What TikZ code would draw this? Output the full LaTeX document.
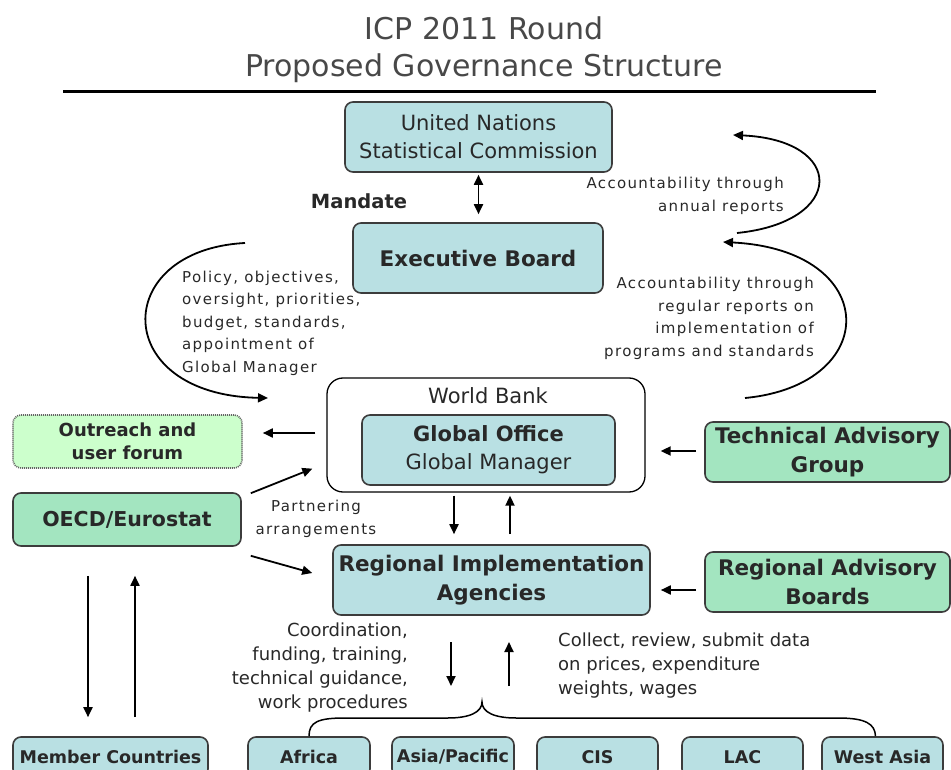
\documentclass[tikz,border=0pt]{standalone}
\usepackage{fontspec}
\setmainfont{DejaVu Sans}
\newfontfamily\spfont[LetterSpace=9]{DejaVu Sans}
\usetikzlibrary{arrows.meta,calc}
\definecolor{boxcyan}{RGB}{185,224,227}
\definecolor{boxgreen}{RGB}{163,229,192}
\definecolor{boxpale}{RGB}{204,255,204}
\definecolor{edge}{RGB}{60,60,60}
\definecolor{ink}{RGB}{40,40,40}
\begin{document}
\begin{tikzpicture}[x=1pt,y=-1pt,
  box/.style={draw=edge, line width=1.6pt, rounded corners=8pt, inner sep=0pt, align=center, text=ink},
  cyanbox/.style={box, fill=boxcyan},
  greenbox/.style={box, fill=boxgreen},
  palebox/.style={box, fill=boxpale, draw=edge!80, dash pattern=on 1pt off 1pt},
  big/.style={font=\fontsize{21}{28}\selectfont},
  bigb/.style={font=\bfseries\fontsize{21.5}{28.5}\selectfont},
  small/.style={font=\bfseries\fontsize{17.5}{20}\selectfont},
  arr/.style={-{Triangle[length=10pt,width=9pt]}, line width=1.8pt},
  dbl/.style={{Triangle[length=10pt,width=9pt]}-{Triangle[length=10pt,width=9pt]}, line width=1.8pt},
  lbl/.style={inner sep=0pt, text=ink, font=\spfont\fontsize{15}{22.5}\selectfont},
  lblb/.style={inner sep=0pt, text=ink, font=\fontsize{18}{24}\selectfont},
  ]
\useasboundingbox (0,0) rectangle (951,770);
% title
\node[inner sep=0pt, align=center, text=ink!85, font=\fontsize{30}{37}\selectfont] (title) at (484,50) {ICP 2011 Round\\Proposed Governance Structure};
\draw[line width=3pt] (63,92) -- (876,92);
% boxes
\node[cyanbox, big, minimum width=267pt, minimum height=70pt] (unsc) at (478.5,137) {United Nations\\Statistical Commission};
\node[cyanbox, bigb, minimum width=250pt, minimum height=70pt] (exec) at (478,258) {Executive Board};
\node[box, fill=white, draw=black, line width=1.3pt, rounded corners=16pt, minimum width=318pt, minimum height=114pt] (wb) at (486,435) {};
\node[inner sep=0pt, text=ink, big] (wblabel) at (488,396) {World Bank};
\node[cyanbox, font=\fontsize{21}{28}\selectfont, minimum width=253pt, minimum height=70pt] (go) at (488.5,450) {{\bfseries Global Office}\\Global Manager};
\node[palebox, font=\bfseries\fontsize{18}{23}\selectfont, minimum width=229pt, minimum height=53pt] (outreach) at (127.5,441.5) {Outreach and\\user forum};
\node[greenbox, font=\bfseries\fontsize{20.5}{26}\selectfont, minimum width=228pt, minimum height=53pt] (oecd) at (127,519.5) {OECD/Eurostat};
\node[cyanbox, bigb, minimum width=317pt, minimum height=70pt] (ria) at (491.5,580) {Regional Implementation\\Agencies};
\node[greenbox, bigb, minimum width=245pt, minimum height=60pt] (tag) at (827.5,452) {Technical Advisory\\Group};
\node[greenbox, bigb, minimum width=245pt, minimum height=60pt] (rab) at (827.5,582) {Regional Advisory\\Boards};
% bottom row
\node[cyanbox, small, minimum width=195pt, minimum height=40pt] (member) at (110.5,757) {Member Countries};
\node[cyanbox, small, minimum width=122pt, minimum height=40pt] (africa) at (309,757) {Africa};
\node[cyanbox, small, minimum width=122pt, minimum height=40pt] (asia) at (453,757) {Asia/Pacific};
\node[cyanbox, small, minimum width=121pt, minimum height=40pt] (cis) at (597.5,757) {CIS};
\node[cyanbox, small, minimum width=121pt, minimum height=40pt] (lac) at (742.5,757) {LAC};
\node[cyanbox, small, minimum width=121pt, minimum height=40pt] (westasia) at (882.5,757) {West Asia};
% labels
\node[inner sep=0pt, text=ink, font=\bfseries\fontsize{19.5}{24}\selectfont] (mandate) at (359,201) {Mandate};
\node[lbl, align=left, anchor=west] (policy) at (182,323) {Policy, objectives,\\oversight, priorities,\\budget, standards,\\appointment of\\Global Manager};
\node[lbl, align=right, anchor=east] (annual) at (784,196) {Accountability through\\annual reports};
\node[lbl, align=right, anchor=east] (regular) at (814,318.5) {Accountability through\\regular reports on\\implementation of\\programs and standards};
\node[lbl, align=center] (partner) at (316,519) {Partnering\\arrangements};
\node[lblb, align=right, anchor=east] (coord) at (408,668) {Coordination,\\funding, training,\\technical guidance,\\work procedures};
\node[lblb, align=left, anchor=west] (collect) at (558,666) {Collect, review, submit data\\on prices, expenditure\\weights, wages};
% connectors
\draw[dbl, shorten <=2pt, shorten >=8pt] (unsc.south) -- (unsc.south |- exec.north);
\coordinate (lcA) at (245,243);
\coordinate (lcB) at (268,398);
\draw[arr] (lcA) .. controls (110,250) and (110,395) .. (lcB);
\coordinate (ruA) at (737,233);
\coordinate (ruB) at (733,135);
\draw[arr] (ruA) .. controls (846,222) and (846,140) .. (ruB);
\coordinate (rlA) at (745,398);
\coordinate (rlB) at (723,242);
\draw[arr] (rlA) .. controls (882,385) and (882,250) .. (rlB);
\draw[arr] ([xshift=-11pt,yshift=2pt]wb.west) -- ([xshift=20pt,yshift=8.5pt]outreach.east);
\draw[arr] ([xshift=9pt,yshift=-1pt]oecd.north east) -- ([xshift=-14pt,yshift=24pt]wb.south west);
\draw[arr] ([xshift=9pt,yshift=-9pt]oecd.south east) -- ([xshift=-20pt,yshift=7pt]ria.west);
\draw[arr] ([xshift=-32pt,yshift=-3pt]wb.south) -- ([xshift=-37.5pt,yshift=10pt]ria.north);
\draw[arr] ([xshift=18.5pt,yshift=10pt]ria.north) -- ([xshift=24pt,yshift=-3pt]wb.south);
\draw[arr] ([xshift=-8pt,yshift=1pt]tag.west) -- ([xshift=15pt,yshift=1pt]tag.west -| wb.east);
\draw[arr] ([xshift=-8pt,yshift=-8pt]rab.west) -- ([xshift=10pt,yshift=-8pt]rab.west -| ria.east);
\draw[arr] ([xshift=-39pt,yshift=-29pt]oecd.south) -- ([xshift=-39pt,yshift=19pt]oecd.south |- member.north);
\draw[arr] ([xshift=8pt,yshift=19pt]oecd.south |- member.north) -- ([xshift=8pt,yshift=-29pt]oecd.south);
\coordinate (dA) at (451,642);
\coordinate (dB) at (451,686);
\coordinate (uA) at (509,686);
\coordinate (uB) at (509,642);
\draw[arr] (dA) -- (dB);
\draw[arr] (uA) -- (uB);
% brace
\draw[line width=1.5pt] (africa.north) .. controls (309,722) and (318,718) .. (345,718) -- (448,718)
  .. controls (470,718) and (482,712) .. (482,702)
  .. controls (482,712) and (494,718) .. (516,718) -- (838,718)
  .. controls (866,718) and (875,724) .. ([xshift=-7pt]westasia.north);
\end{tikzpicture}
\end{document}
